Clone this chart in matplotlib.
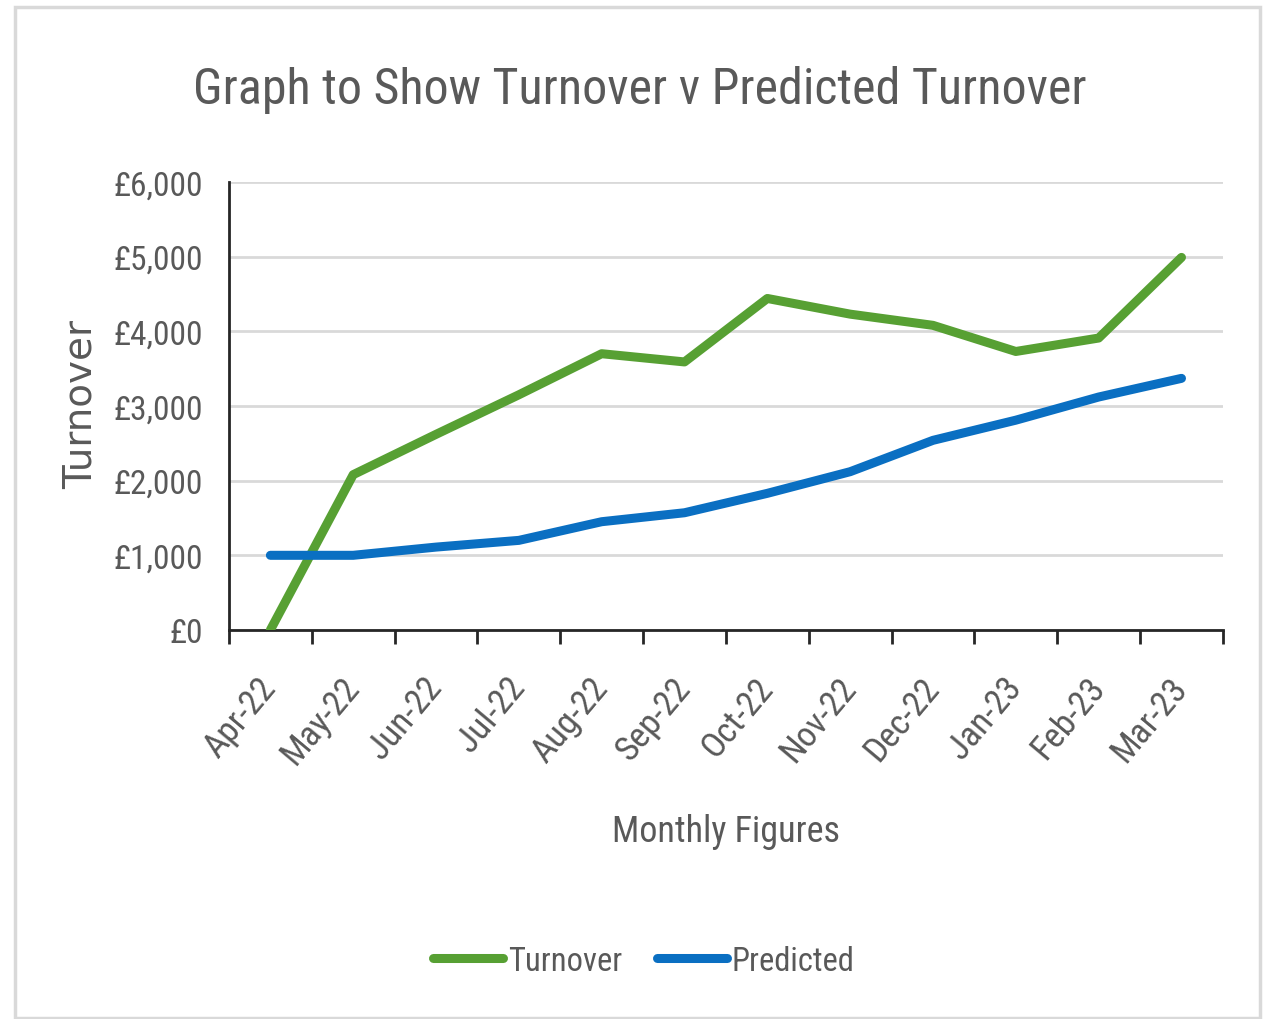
#!/usr/bin/env python3

import matplotlib
matplotlib.use("Agg")
import matplotlib.pyplot as plt
from matplotlib.patches import Rectangle
from matplotlib.ticker import FuncFormatter

months = ["Apr-22", "May-22", "Jun-22", "Jul-22", "Aug-22", "Sep-22",
          "Oct-22", "Nov-22", "Dec-22", "Jan-23", "Feb-23", "Mar-23"]
turnover = [0, 2080, 2620, 3150, 3700, 3590, 4440, 4230, 4080, 3730, 3910, 4990]
predicted = [1000, 1000, 1110, 1200, 1450, 1570, 1830, 2120, 2540, 2810, 3120, 3370]

green = "#57A033"
blue = "#0A6FC2"
grey = "#595959"

plt.rcParams['font.family'] = ['Roboto Condensed', 'Lato', 'DejaVu Sans']

fig = plt.figure(figsize=(12.67, 10.2), dpi=100)
ax = fig.add_axes([0.1807, 0.3814, 0.7845, 0.4392])

x = list(range(len(months)))
ax.plot(x, turnover, color=green, lw=6.5, solid_capstyle='round',
        solid_joinstyle='round', label="Turnover", zorder=3)
ax.plot(x, predicted, color=blue, lw=6.5, solid_capstyle='round',
        solid_joinstyle='round', label="Predicted", zorder=3)

ax.set_xlim(-0.5, len(months) - 0.5)
ax.set_ylim(0, 6000)
ax.set_yticks(range(0, 6001, 1000))
ax.yaxis.set_major_formatter(FuncFormatter(lambda v, p: "£{:,.0f}".format(v)))
ax.grid(axis='y', color='#D9D9D9', lw=2)
ax.set_axisbelow(True)

ax.set_xticks(x)
ax.set_xticklabels(months, rotation=50, ha='right', va='center',
                   rotation_mode='anchor')
ax.set_xticks([i - 0.5 for i in range(len(months) + 1)], minor=True)
ax.tick_params(axis='x', which='major', length=0, pad=37, labelsize=25.5,
               labelcolor=grey)
ax.tick_params(axis='x', which='minor', length=10, width=2, color='#262626')
ax.tick_params(axis='y', length=0, pad=19, labelsize=24, labelcolor=grey)

for s in ['top', 'right']:
    ax.spines[s].set_visible(False)
for s in ['left', 'bottom']:
    ax.spines[s].set_color('#262626')
    ax.spines[s].set_linewidth(2)

ax.set_xlabel("Monthly Figures", fontsize=26, color=grey, labelpad=31)
fig.text(0.064, 0.603, "Turnover", rotation=90, ha='center', va='center',
         fontsize=28, color=grey, family='DejaVu Sans')

fig.text(0.505, 0.912, "Graph to Show Turnover v Predicted Turnover",
         ha='center', va='center', fontsize=36, color=grey)

fig.legend(loc='center', bbox_to_anchor=(0.508, 0.057), ncol=2, frameon=False,
           fontsize=23.5, handlelength=2.15, handletextpad=0.15, columnspacing=1.07,
           labelcolor=grey)

fig.patches.append(Rectangle((0.0118, 0.001), 0.983, 0.991, transform=fig.transFigure,
                             fill=False, edgecolor='#D9D9D9', lw=2.5))

fig.savefig("out.png", dpi=100, facecolor='white')
